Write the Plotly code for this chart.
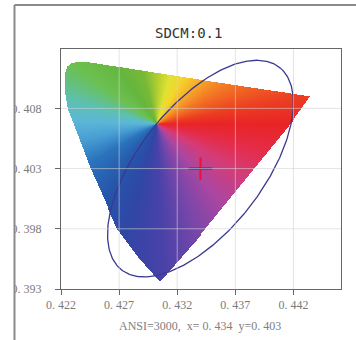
import numpy as np
import plotly.graph_objects as go

# ---------------- data ----------------
TITLE = "SDCM:0.1"
SUBTITLE = "ANSI=3000,  x= 0. 434  y=0. 403"

X_TICKS = [0.422, 0.427, 0.432, 0.437, 0.442]
X_TICK_LABELS = ["0. 422", "0. 427", "0. 432", "0. 437", "0. 442"]
Y_TICKS = [0.393, 0.398, 0.403, 0.408]
Y_TICK_LABELS = ["0. 393", "0. 398", "0. 403", "0. 408"]
X_RANGE = [0.422, 0.44609]
Y_RANGE = [0.393, 0.41293]

# colour gamut outline (chromaticity x, y)
GAMUT_X = [0.42234, 0.42251, 0.42285, 0.42336, 0.42404, 0.42728, 0.43408, 0.43919,
           0.44345, 0.44200, 0.43366, 0.43051, 0.42864, 0.42685, 0.42455, 0.42302,
           0.42260, 0.42238]
GAMUT_Y = [0.41086, 0.41144, 0.41173, 0.41186, 0.41187, 0.41140, 0.41036, 0.40961,
           0.40899, 0.40704, 0.39707, 0.39358, 0.39566, 0.39798, 0.40297, 0.40687,
           0.40787, 0.40911]
HUE_CENTER_X = 0.43025
HUE_CENTER_Y = 0.40670

# target point and SDCM ellipse
TARGET_X = 0.434
TARGET_Y = 0.403
ELLIPSE_A = 0.01081
ELLIPSE_B = 0.00529
ELLIPSE_ANGLE_DEG = 50.5

# hue anchors (angle in degrees around the hue centre -> colour)
HUE_ANGLES = [0, 10, 20, 35, 48, 62, 75, 90, 105, 125, 145, 155, 165, 178, 192, 210,
              235, 255, 272, 290, 310, 330, 345, 360]
HUE_COLORS = ["rgb(232,36,38)", "rgb(236,60,34)", "rgb(240,95,35)", "rgb(245,140,38)",
              "rgb(247,180,42)", "rgb(242,215,45)", "rgb(225,225,50)", "rgb(175,205,50)",
              "rgb(120,185,55)", "rgb(100,182,62)", "rgb(108,192,80)", "rgb(100,192,125)",
              "rgb(92,192,180)", "rgb(92,182,215)", "rgb(72,158,212)", "rgb(42,115,188)",
              "rgb(38,85,170)", "rgb(48,70,165)", "rgb(72,66,168)", "rgb(120,70,170)",
              "rgb(172,70,160)", "rgb(212,60,120)", "rgb(228,45,75)", "rgb(232,36,38)"]

# ---------------- figure ----------------
W, H = 356, 340
ML, MR, MT, MB = 58, 15, 49, 51
PW, PH = W - ML - MR, H - MT - MB

nx, ny = PW, PH
dxp = (X_RANGE[1] - X_RANGE[0]) / nx
dyp = (Y_RANGE[1] - Y_RANGE[0]) / ny
xs = X_RANGE[0] + (np.arange(nx) + 0.5) * dxp
ys = Y_RANGE[0] + (np.arange(ny) + 0.5) * dyp
XX, YY = np.meshgrid(xs, ys)

# point in polygon (ray casting)
px = np.array(GAMUT_X)
py = np.array(GAMUT_Y)
inside = np.zeros_like(XX, dtype=bool)
n = len(px)
for i in range(n):
    x1, y1 = px[i], py[i]
    x2, y2 = px[(i + 1) % n], py[(i + 1) % n]
    cond = (y1 > YY) != (y2 > YY)
    with np.errstate(divide="ignore", invalid="ignore"):
        xint = x1 + (YY - y1) * (x2 - x1) / (y2 - y1)
    inside ^= cond & (XX < xint)

ang = np.degrees(np.arctan2((YY - HUE_CENTER_Y) / dyp, (XX - HUE_CENTER_X) / dxp)) % 360
Z = np.where(inside, ang, None).tolist()

colorscale = [[a / 360.0, c] for a, c in zip(HUE_ANGLES, HUE_COLORS)]

fig = go.Figure()
fig.add_trace(go.Heatmap(x=xs, y=ys, z=Z, colorscale=colorscale, zmin=0, zmax=360,
                         showscale=False, hoverinfo="skip", zsmooth=False))

t = np.linspace(0, 2 * np.pi, 361)
phi = np.radians(ELLIPSE_ANGLE_DEG)
ex = TARGET_X + ELLIPSE_A * np.cos(t) * np.cos(phi) - ELLIPSE_B * np.sin(t) * np.sin(phi)
ey = TARGET_Y + ELLIPSE_A * np.cos(t) * np.sin(phi) + ELLIPSE_B * np.sin(t) * np.cos(phi)
fig.add_trace(go.Scatter(x=ex, y=ey, mode="lines",
                         line=dict(color="#3a3a8e", width=1.3), hoverinfo="skip"))

fig.add_trace(go.Scatter(x=[TARGET_X], y=[TARGET_Y], mode="markers",
                         marker=dict(symbol="line-ns", size=16,
                                     line=dict(color="#f01030", width=2)),
                         hoverinfo="skip"))
fig.add_trace(go.Scatter(x=[TARGET_X], y=[TARGET_Y], mode="markers",
                         marker=dict(symbol="line-ew", size=17,
                                     line=dict(color="#4a3c8c", width=2.5)),
                         hoverinfo="skip"))

shapes = []
grid_col = "rgba(210,210,210,0.6)"
for v in X_TICKS[1:]:
    shapes.append(dict(type="line", xref="x", yref="paper", x0=v, x1=v, y0=0, y1=1,
                       line=dict(color=grid_col, width=1), layer="above"))
for v in Y_TICKS[1:]:
    shapes.append(dict(type="line", xref="paper", yref="y", x0=0, x1=1, y0=v, y1=v,
                       line=dict(color=grid_col, width=1), layer="above"))

# outer frame of the picture
fx = (11 - ML) / PW
fy_top = (H - MB - 5) / PH
shapes.append(dict(type="rect", xref="paper", yref="paper", x0=-0.5, x1=fx,
                   y0=-0.5, y1=1.5, fillcolor="white", line=dict(width=0), layer="above"))
shapes.append(dict(type="line", xref="paper", yref="paper", x0=fx, x1=fx,
                   y0=-0.5, y1=fy_top, line=dict(color="#8a8a8a", width=2), layer="above"))
shapes.append(dict(type="line", xref="paper", yref="paper", x0=fx, x1=1.5,
                   y0=fy_top, y1=fy_top, line=dict(color="#8a8a8a", width=2), layer="above"))

tickfont = dict(family="Liberation Serif", size=12, color="#7a7a7a")
axis_common = dict(showgrid=False, zeroline=False, showline=True, mirror=True,
                   linecolor="#666666", linewidth=1, ticks="outside", ticklen=5,
                   tickcolor="#666666", tickfont=tickfont)

fig.update_layout(
    width=W, height=H,
    margin=dict(l=ML, r=MR, t=MT, b=MB),
    paper_bgcolor="white", plot_bgcolor="white",
    showlegend=False,
    xaxis=dict(range=X_RANGE, tickvals=X_TICKS, ticktext=X_TICK_LABELS, **axis_common),
    yaxis=dict(range=Y_RANGE, tickvals=Y_TICKS, ticktext=Y_TICK_LABELS,
               ticklabelstandoff=11, **axis_common),
    shapes=shapes,
    annotations=[
        dict(text=TITLE, xref="paper", yref="paper", x=(187 - ML) / PW,
             y=(H - MB - 33) / PH, showarrow=False, xanchor="center", yanchor="middle",
             font=dict(family="DejaVu Sans Mono", size=14, color="#333333")),
        dict(text=SUBTITLE, xref="paper", yref="paper", x=(198 - ML) / PW,
             y=(H - MB - 326) / PH, showarrow=False, xanchor="center", yanchor="middle",
             font=dict(family="Liberation Serif", size=12, color="#808080")),
    ],
)

fig.write_html("out.html", config={"displayModeBar": False},
               post_script="document.body.style.margin='0';")
